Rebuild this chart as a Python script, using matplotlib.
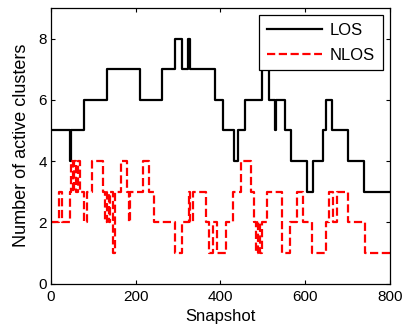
import matplotlib
matplotlib.use("Agg")
import matplotlib.pyplot as plt

# LOS: snapshot where a level starts, and the cluster count from there
los_snap = [0, 44, 48, 79, 131, 211, 263, 293, 308, 324, 328, 387, 407, 432, 441,
            458, 497, 514, 528, 532, 552, 566, 603, 619, 642, 650, 662, 701, 738, 800]
los_val = [5, 4, 5, 6, 7, 6, 7, 8, 7, 8, 7, 6, 5, 4, 5,
           6, 7, 6, 5, 6, 5, 4, 3, 4, 5, 6, 5, 4, 3, 3]

# NLOS
nlos_snap = [0, 20, 26, 45, 48, 52, 55, 60, 63, 68, 78, 84, 96, 122, 128, 131, 136,
             140, 147, 151, 165, 180, 183, 186, 216, 231, 243, 292, 310, 325, 329,
             336, 365, 373, 383, 391, 412, 430, 449, 472, 478, 484, 488, 493, 497,
             510, 546, 564, 580, 594, 616, 650, 655, 666, 674, 702, 742, 800]
nlos_val = [2, 3, 2, 3, 4, 3, 4, 3, 4, 3, 2, 3, 4, 3, 2, 3, 2,
            3, 1, 3, 4, 3, 2, 3, 4, 3, 2, 1, 2, 3, 2,
            3, 2, 1, 2, 1, 2, 3, 4, 3, 2, 1, 2, 1, 2,
            3, 1, 2, 3, 2, 1, 2, 3, 2, 3, 2, 1, 1]

x_ticks = [0, 200, 400, 600, 800]
y_ticks = [0, 2, 4, 6, 8]

plt.rcParams['font.family'] = ['Liberation Sans', 'DejaVu Sans']
plt.rcParams['font.size'] = 10

fig = plt.figure(figsize=(4.06, 3.33), dpi=100)
ax = fig.add_axes([0.1256, 0.1486, 0.835, 0.8274])

ax.plot(los_snap, los_val, drawstyle='steps-post', color='black', lw=1.6, label='LOS')
ax.plot(nlos_snap, nlos_val, drawstyle='steps-post', color='#ff0000', lw=1.6,
        linestyle='--', label='NLOS')

ax.set_xlim(0, 800)
ax.set_ylim(0, 9)
ax.set_xticks(x_ticks)
ax.set_yticks(y_ticks)
ax.tick_params(direction='in', top=True, right=True, length=3, width=0.8,
               labelsize=11, pad=3)
ax.tick_params(axis='x', pad=4.5)
for s in ax.spines.values():
    s.set_linewidth(0.9)

ax.set_xlabel('Snapshot', fontsize=12, labelpad=4)
ax.set_ylabel('Number of active clusters', fontsize=13, labelpad=6)

leg = ax.legend(loc='upper right', fancybox=False, framealpha=1, edgecolor='black',
                fontsize=12, handlelength=3.3, borderaxespad=0.45, labelspacing=0.6,
                handletextpad=0.5, borderpad=0.45)
leg.get_frame().set_linewidth(0.9)

fig.savefig('out.png', dpi=100)
